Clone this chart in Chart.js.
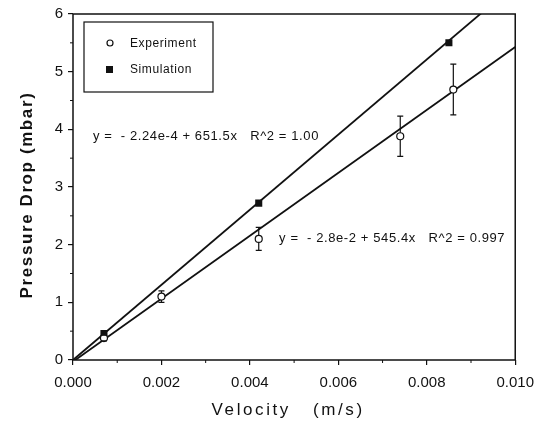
<!DOCTYPE html>
<html>
<head>
<meta charset="utf-8">
<script src="https://cdn.jsdelivr.net/npm/chart.js@4/dist/chart.umd.min.js"></script>
<style>
  html, body { margin: 0; padding: 0; background: #fff; }
  #wrap { width: 543px; height: 432px; }
</style>
</head>
<body>
<div id="wrap"><canvas id="chart" width="543" height="432"></canvas></div>
<script>
// Medidas (velocidad en m/s, caída de presión en mbar)
const velExp = [0.0007, 0.002, 0.0042, 0.0074, 0.0086];
const dropExp = [0.38, 1.1, 2.1, 3.88, 4.69];
const errExp = [0.05, 0.1, 0.2, 0.35, 0.44];

const velSim = [0.0007, 0.0042, 0.0085];
const dropSim = [0.46, 2.72, 5.5];

// Ajustes lineales: y = a + b x
const fitSim = { a: -2.24e-4, b: 651.5, texto: 'y =  - 2.24e-4 + 651.5x   R^2 = 1.00', x: 0.00045, y: 3.87 };
const fitExp = { a: -2.8e-2, b: 545.4, texto: 'y =  - 2.8e-2 + 545.4x   R^2 = 0.997', x: 0.00466, y: 2.11 };

const xTicks = [0, 0.002, 0.004, 0.006, 0.008, 0.010];
const yTicks = [0, 1, 2, 3, 4, 5, 6];

const FUENTE = '"Liberation Sans", Arial, sans-serif';
const NEGRO = '#111';

function lineaAjuste(fit) {
    return [0, 0.010].map(v => ({ x: v, y: fit.a + fit.b * v }));
}

// Barras de error, marco, ticks menores, leyenda y textos
const extras = {
    id: 'extras',
    afterDatasetsDraw(chart) {
        const ctx = chart.ctx;
        const xs = chart.scales.x, ys = chart.scales.y;
        const area = chart.chartArea;
        ctx.save();
        ctx.strokeStyle = NEGRO;
        ctx.fillStyle = NEGRO;

        // barras de error
        ctx.lineWidth = 1.2;
        velExp.forEach((v, i) => {
            const px = xs.getPixelForValue(v);
            const top = ys.getPixelForValue(dropExp[i] + errExp[i]);
            const bot = ys.getPixelForValue(dropExp[i] - errExp[i]);
            const cy = ys.getPixelForValue(dropExp[i]);
            ctx.beginPath();
            ctx.moveTo(px, top); ctx.lineTo(px, cy - 3.5);
            ctx.moveTo(px, cy + 3.5); ctx.lineTo(px, bot);
            ctx.moveTo(px - 3, top); ctx.lineTo(px + 3, top);
            ctx.moveTo(px - 3, bot); ctx.lineTo(px + 3, bot);
            ctx.stroke();
        });

        // marco
        ctx.lineWidth = 1.5;
        ctx.strokeRect(area.left, area.top, area.right - area.left, area.bottom - area.top);

        // ticks menores
        ctx.lineWidth = 1;
        ctx.beginPath();
        for (let i = 0; i < xTicks.length - 1; i++) {
            const px = xs.getPixelForValue((xTicks[i] + xTicks[i + 1]) / 2);
            ctx.moveTo(px, area.bottom); ctx.lineTo(px, area.bottom + 3);
        }
        for (let i = 0; i < yTicks.length - 1; i++) {
            const py = ys.getPixelForValue((yTicks[i] + yTicks[i + 1]) / 2);
            ctx.moveTo(area.left, py); ctx.lineTo(area.left - 3, py);
        }
        ctx.stroke();

        // leyenda
        ctx.lineWidth = 1.2;
        ctx.strokeRect(84, 22, 129, 70);
        ctx.beginPath();
        ctx.arc(110, 43, 3, 0, Math.PI * 2);
        ctx.fillStyle = '#fff';
        ctx.fill();
        ctx.stroke();
        ctx.fillStyle = NEGRO;
        ctx.fillRect(106, 66, 7, 7);
        ctx.font = '12px ' + FUENTE;
        ctx.letterSpacing = '0.6px';
        ctx.textBaseline = 'middle';
        ctx.textAlign = 'left';
        ctx.fillText('Experiment', 130, 44);
        ctx.fillText('Simulation', 130, 70);

        // ecuaciones de ajuste
        ctx.font = '13px ' + FUENTE;
        ctx.letterSpacing = '0.6px';
        [fitSim, fitExp].forEach(f => {
            ctx.fillText(f.texto, xs.getPixelForValue(f.x), ys.getPixelForValue(f.y));
        });

        // títulos de los ejes
        ctx.font = '17px ' + FUENTE;
        ctx.letterSpacing = '2.6px';
        ctx.textAlign = 'center';
        ctx.fillText('Velocity   (m/s)', (area.left + area.right) / 2 - 6, 410);
        ctx.translate(27, (area.top + area.bottom) / 2 + 8);
        ctx.rotate(-Math.PI / 2);
        ctx.font = 'bold 17px ' + FUENTE;
        ctx.letterSpacing = '1.6px';
        ctx.fillText('Pressure Drop (mbar)', 0, 0);
        ctx.restore();
    }
};

new Chart(document.getElementById('chart').getContext('2d'), {
    type: 'scatter',
    data: {
        datasets: [
            {
                label: 'Experiment',
                data: velExp.map((v, i) => ({ x: v, y: dropExp[i] })),
                pointStyle: 'circle',
                pointRadius: 3.5,
                backgroundColor: '#fff',
                borderColor: NEGRO,
                borderWidth: 1.2
            },
            {
                label: 'Simulation',
                data: velSim.map((v, i) => ({ x: v, y: dropSim[i] })),
                pointStyle: 'rect',
                pointRadius: 5,
                backgroundColor: NEGRO,
                borderColor: NEGRO,
                borderWidth: 0
            },
            {
                type: 'line',
                label: 'Ajuste simulación',
                data: lineaAjuste(fitSim),
                borderColor: NEGRO,
                borderWidth: 1.8,
                pointRadius: 0,
                fill: false
            },
            {
                type: 'line',
                label: 'Ajuste experimento',
                data: lineaAjuste(fitExp),
                borderColor: NEGRO,
                borderWidth: 1.8,
                pointRadius: 0,
                fill: false
            }
        ]
    },
    options: {
        responsive: false,
        animation: false,
        layout: { padding: { top: 13, right: 25, left: 0, bottom: 0 } },
        plugins: { legend: { display: false }, tooltip: { enabled: false } },
        scales: {
            x: {
                type: 'linear',
                min: 0,
                max: 0.010,
                afterFit: s => { s.height = 72; },
                afterBuildTicks: s => { s.ticks = xTicks.map(v => ({ value: v })); },
                grid: { drawOnChartArea: false, tickLength: 5, color: NEGRO, lineWidth: 1.2 },
                border: { display: false },
                ticks: {
                    color: NEGRO,
                    font: { family: FUENTE, size: 15 },
                    padding: 9,
                    maxRotation: 0,
                    callback: v => v.toFixed(3)
                }
            },
            y: {
                min: 0,
                max: 6,
                afterFit: s => { s.width = 73; },
                afterBuildTicks: s => { s.ticks = yTicks.map(v => ({ value: v })); },
                grid: { drawOnChartArea: false, tickLength: 5, color: NEGRO, lineWidth: 1.2 },
                border: { display: false },
                ticks: {
                    color: NEGRO,
                    font: { family: FUENTE, size: 15 },
                    padding: 5,
                    callback: v => String(v)
                }
            }
        }
    },
    plugins: [extras]
});
</script>
</body>
</html>
